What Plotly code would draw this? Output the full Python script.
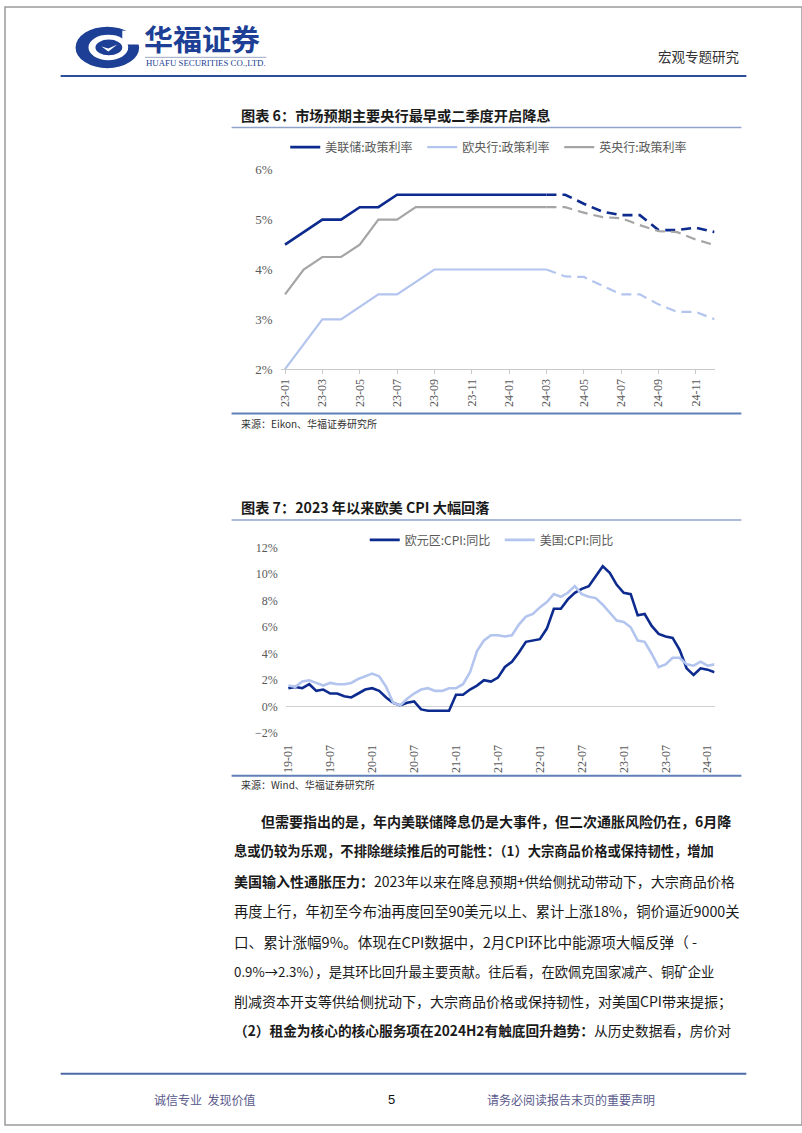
import plotly.graph_objects as go

W, H = 802, 1133


def px(x):
    return x / W


def py(y):
    return 1 - y / H


# ---------------- data: chart 6 (policy rates, %) ----------------
months_policy = ["23-01", "23-02", "23-03", "23-04", "23-05", "23-06", "23-07", "23-08",
                 "23-09", "23-10", "23-11", "23-12", "24-01", "24-02", "24-03", "24-04",
                 "24-05", "24-06", "24-07", "24-08", "24-09", "24-10", "24-11", "24-12"]
policy_ticks = ["23-01", "23-03", "23-05", "23-07", "23-09", "23-11",
                "24-01", "24-03", "24-05", "24-07", "24-09", "24-11"]
# actual: 23-01 .. 24-03
fed_rate = [4.5, 4.75, 5.0, 5.0, 5.25, 5.25, 5.5, 5.5, 5.5, 5.5, 5.5, 5.5, 5.5, 5.5, 5.5]
ecb_rate = [2.0, 2.5, 3.0, 3.0, 3.25, 3.5, 3.5, 3.75, 4.0, 4.0, 4.0, 4.0, 4.0, 4.0, 4.0]
boe_rate = [3.5, 4.0, 4.25, 4.25, 4.5, 5.0, 5.0, 5.25, 5.25, 5.25, 5.25, 5.25, 5.25, 5.25, 5.25]
# market expectations: 24-04 .. 24-12
fed_expect = [5.5, 5.32, 5.16, 5.09, 5.09, 4.79, 4.79, 4.84, 4.75]
ecb_expect = [3.86, 3.85, 3.68, 3.5, 3.5, 3.3, 3.15, 3.15, 3.0]
boe_expect = [5.25, 5.14, 5.05, 5.03, 4.89, 4.77, 4.75, 4.6, 4.49]

# ---------------- data: chart 7 (CPI YoY, %) ----------------
months_cpi = ["19-01", "19-02", "19-03", "19-04", "19-05", "19-06", "19-07", "19-08", "19-09", "19-10", "19-11", "19-12",
              "20-01", "20-02", "20-03", "20-04", "20-05", "20-06", "20-07", "20-08", "20-09", "20-10", "20-11", "20-12",
              "21-01", "21-02", "21-03", "21-04", "21-05", "21-06", "21-07", "21-08", "21-09", "21-10", "21-11", "21-12",
              "22-01", "22-02", "22-03", "22-04", "22-05", "22-06", "22-07", "22-08", "22-09", "22-10", "22-11", "22-12",
              "23-01", "23-02", "23-03", "23-04", "23-05", "23-06", "23-07", "23-08", "23-09", "23-10", "23-11", "23-12",
              "24-01", "24-02"]
cpi_ticks = ["19-01", "19-07", "20-01", "20-07", "21-01", "21-07",
             "22-01", "22-07", "23-01", "23-07", "24-01"]
euro_cpi = [1.4, 1.5, 1.4, 1.7, 1.2, 1.3, 1.0, 1.0, 0.8, 0.7, 1.0, 1.3,
            1.4, 1.2, 0.7, 0.3, 0.1, 0.3, 0.4, -0.2, -0.3, -0.3, -0.3, -0.3,
            0.9, 0.9, 1.3, 1.6, 2.0, 1.9, 2.2, 3.0, 3.4, 4.1, 4.9, 5.0,
            5.1, 5.9, 7.4, 7.4, 8.1, 8.6, 8.9, 9.1, 9.9, 10.6, 10.1, 9.2,
            8.6, 8.5, 6.9, 7.0, 6.1, 5.5, 5.3, 5.2, 4.3, 2.9, 2.4, 2.9,
            2.8, 2.6]
us_cpi = [1.6, 1.5, 1.9, 2.0, 1.8, 1.6, 1.8, 1.7, 1.7, 1.8, 2.1, 2.3,
          2.5, 2.3, 1.5, 0.3, 0.1, 0.6, 1.0, 1.3, 1.4, 1.2, 1.2, 1.4,
          1.4, 1.7, 2.6, 4.2, 5.0, 5.4, 5.4, 5.3, 5.4, 6.2, 6.8, 7.0,
          7.5, 7.9, 8.5, 8.3, 8.6, 9.1, 8.5, 8.3, 8.2, 7.7, 7.1, 6.5,
          6.4, 6.0, 5.0, 4.9, 4.0, 3.0, 3.2, 3.7, 3.7, 3.2, 3.1, 3.4,
          3.1, 3.2]

# ---------------- styles ----------------
NAVY = "#0d2b8e"
LIGHT = "#b3c5ee"
GRAY = "#a5a5a5"
AXIS_TXT = "#595959"
SERIF = "Liberation Serif, Times New Roman, serif"
CJK = "Noto Sans CJK SC, sans-serif"
BRAND = "#1d3f95"

fig = go.Figure()

n_act = len(fed_rate)
x_act = months_policy[:n_act]
x_exp = months_policy[n_act - 1:]
for name, act, exp, color, width in [
    ("美联储:政策利率", fed_rate, fed_expect, NAVY, 2.6),
    ("欧央行:政策利率", ecb_rate, ecb_expect, LIGHT, 2.2),
    ("英央行:政策利率", boe_rate, boe_expect, GRAY, 2.2),
]:
    fig.add_trace(go.Scatter(x=x_act, y=act, mode="lines", name=name,
                             line=dict(color=color, width=width),
                             xaxis="x", yaxis="y", legend="legend", hoverinfo="skip"))
    fig.add_trace(go.Scatter(x=x_exp, y=[act[-1]] + exp, mode="lines", name=name,
                             line=dict(color=color, width=width, dash="10px,6px"),
                             xaxis="x", yaxis="y", showlegend=False, hoverinfo="skip"))

fig.add_trace(go.Scatter(x=months_cpi, y=euro_cpi, mode="lines", name="欧元区:CPI:同比",
                         line=dict(color=NAVY, width=2.6), xaxis="x2", yaxis="y2",
                         legend="legend2", hoverinfo="skip"))
fig.add_trace(go.Scatter(x=months_cpi, y=us_cpi, mode="lines", name="美国:CPI:同比",
                         line=dict(color=LIGHT, width=2.6), xaxis="x2", yaxis="y2",
                         legend="legend2", hoverinfo="skip"))

tickfont = dict(family=SERIF, size=12, color=AXIS_TXT)
legfont = dict(family=CJK, size=12, color=AXIS_TXT)

fig.update_layout(
    width=W, height=H,
    margin=dict(l=0, r=0, t=0, b=0),
    paper_bgcolor="white", plot_bgcolor="rgba(0,0,0,0)",
    xaxis=dict(domain=[px(278), px(714)], anchor="y", type="category",
               categoryorder="array", categoryarray=months_policy,
               range=[-0.2, 23], tickmode="array", tickvals=policy_ticks,
               tickangle=-90, showline=True, linecolor="#c8c8c8", linewidth=1,
               ticks="outside", ticklen=4, tickcolor="#c8c8c8",
               showgrid=False, zeroline=False, tickfont=tickfont),
    yaxis=dict(domain=[py(367), py(165)], anchor="x", range=[2, 6], dtick=1,
               ticksuffix="%", showgrid=False, zeroline=False, showline=False,
               ticks="outside", ticklen=5, tickcolor="rgba(0,0,0,0)",
               tickfont=dict(family=SERIF, size=13, color=AXIS_TXT)),
    xaxis2=dict(domain=[px(283), px(714)], anchor="y2", type="category",
                categoryorder="array", categoryarray=months_cpi,
                range=[-0.3, 61], tickmode="array", tickvals=cpi_ticks,
                tickangle=-90, showline=False, ticks="outside", ticklen=6,
                tickcolor="rgba(0,0,0,0)", showgrid=False, zeroline=False,
                tickfont=tickfont),
    yaxis2=dict(domain=[py(736), py(548)], anchor="x2", range=[-2, 12], dtick=2,
                ticksuffix="%", showgrid=False, zeroline=True, zerolinecolor="#d0d0d0",
                zerolinewidth=1, showline=False, ticks="outside", ticklen=5,
                tickcolor="rgba(0,0,0,0)",
                tickfont=dict(family=SERIF, size=12, color=AXIS_TXT)),
    legend=dict(orientation="h", x=px(282), y=py(142), xanchor="left", yanchor="middle",
                font=legfont, bgcolor="rgba(0,0,0,0)", entrywidthmode="pixels",
                entrywidth=92, itemwidth=30),
    legend2=dict(orientation="h", x=px(362), y=py(540), xanchor="left", yanchor="middle",
                 font=legfont, bgcolor="rgba(0,0,0,0)", entrywidthmode="pixels",
                 entrywidth=90, itemwidth=30),
)

shapes = []
# page border
shapes.append(dict(type="rect", xref="paper", yref="paper", x0=0, x1=1, y0=0, y1=1,
                   line=dict(color="#9a9a9a", width=1.5), fillcolor="rgba(0,0,0,0)"))
# header rule and footer rule
shapes.append(dict(type="line", xref="paper", yref="paper", x0=px(56), x1=px(746),
                   y0=py(70), y1=py(70), line=dict(color="#2c4c9c", width=2)))
shapes.append(dict(type="line", xref="paper", yref="paper", x0=px(56), x1=px(746),
                   y0=py(1081), y1=py(1081), line=dict(color="#4d6aa6", width=2)))
# title underlines
for yy in (122, 520):
    shapes.append(dict(type="line", xref="paper", yref="paper", x0=px(228), x1=px(741),
                       y0=py(yy), y1=py(yy), line=dict(color="#8ea3cb", width=1.5)))
# source lines
for yy in (412, 779):
    shapes.append(dict(type="line", xref="paper", yref="paper", x0=px(228), x1=px(741),
                       y0=py(yy), y1=py(yy), line=dict(color="#5f80b9", width=2)))
# logo
shapes.append(dict(type="circle", xref="paper", yref="paper", x0=px(71), x1=px(135),
                   y0=py(62), y1=py(20), fillcolor=BRAND, line=dict(width=0)))
shapes.append(dict(type="circle", xref="paper", yref="paper", x0=px(84), x1=px(124),
                   y0=py(54), y1=py(28), fillcolor="white", line=dict(width=0)))
shapes.append(dict(type="circle", xref="paper", yref="paper", x0=px(91), x1=px(118),
                   y0=py(49), y1=py(33), fillcolor=BRAND, line=dict(width=0)))
shapes.append(dict(type="path", xref="paper", yref="paper",
                   path=f"M {px(97)},{py(40)} L {px(104)},{py(45)} L {px(113)},{py(38)} "
                        f"L {px(104)},{py(42)} Z",
                   fillcolor="white", line=dict(width=0)))
shapes.append(dict(type="rect", xref="paper", yref="paper", x0=px(118), x1=px(136),
                   y0=py(38), y1=py(24), fillcolor="white", line=dict(width=0)))
shapes.append(dict(type="line", xref="paper", yref="paper", x0=px(141), x1=px(263),
                   y0=py(51), y1=py(51), line=dict(color="#9aa6c4", width=1)))
fig.update_layout(shapes=shapes)

ann = []


def text(x, y, s, size, color="#1a1a1a", family=CJK, anchor="left"):
    ann.append(dict(xref="paper", yref="paper", x=px(x), y=py(y), text=s, showarrow=False,
                    xanchor=anchor, yanchor="middle",
                    font=dict(family=family, size=size, color=color)))


# header
text(138, 31, "<b>华福证券</b>", 29, BRAND)
text(140, 57, "HUAFU SECURITIES CO.,LTD.", 8.8, BRAND, SERIF)
text(741, 50, "宏观专题研究", 13.5, "#333333", CJK, "right")

# chart titles and sources
text(235, 109, "<b>图表 6：市场预期主要央行最早或二季度开启降息</b>", 14.2)
text(235, 422, "来源：Eikon、华福证券研究所", 10, "#333333")
text(235, 507, "<b>图表 7：2023 年以来欧美 CPI 大幅回落</b>", 14.2)
text(235, 788, "来源：Wind、华福证券研究所", 10, "#333333")

# body paragraph (x, y, text, font size)
body = [
    (256, 825, "<b>但需要指出的是，年内美联储降息仍是大事件，但二次通胀风险仍在，6月降</b>", 14),
    (228, 855, "<b>息或仍较为乐观，不排除继续推后的可能性：（1）大宗商品价格或保持韧性，增加</b>", 13.3),
    (228, 886, "<b>美国输入性通胀压力：</b>2023年以来在降息预期+供给侧扰动带动下，大宗商品价格", 14),
    (228, 916, "再度上行，年初至今布油再度回至90美元以上、累计上涨18%，铜价逼近9000关", 14.3),
    (228, 947, "口、累计涨幅9%。体现在CPI数据中，2月CPI环比中能源项大幅反弹（ -", 14.6),
    (228, 977, "0.9%→2.3%），是其环比回升最主要贡献。往后看，在欧佩克国家减产、铜矿企业", 13.3),
    (228, 1007, "削减资本开支等供给侧扰动下，大宗商品价格或保持韧性，对美国CPI带来提振；", 14),
    (228, 1037, "<b>（2）租金为核心的核心服务项在2024H2有触底回升趋势：</b>从历史数据看，房价对", 13.7),
]
for x, y, s, fs in body:
    text(x, y, s, fs)

# footer
text(148, 1107, "诚信专业  发现价值", 12, "#5a5a8c")
text(389, 1107, "5", 13, "#111111", "Liberation Sans, Arial, sans-serif", "center")
text(483, 1107, "请务必阅读报告末页的重要声明", 12, "#5a5a8c")

fig.update_layout(annotations=ann)

fig.write_html("out.html")
